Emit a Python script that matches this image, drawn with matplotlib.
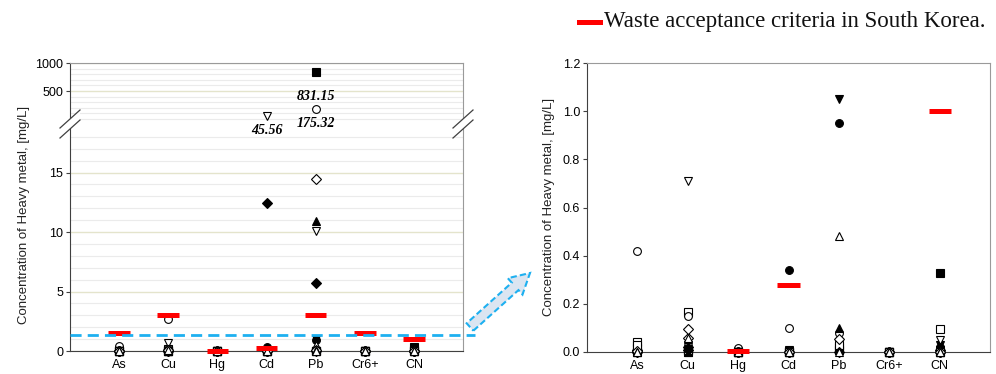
import numpy as np
import matplotlib
matplotlib.use('Agg')
import matplotlib.pyplot as plt
from matplotlib.lines import Line2D
from matplotlib.patches import Polygon

plt.rcParams['font.family'] = ['Liberation Sans', 'DejaVu Sans']

metals = ['As', 'Cu', 'Hg', 'Cd', 'Pb', 'Cr6+', 'CN']
criteria = [1.5, 3.0, 0.005, 0.28, 3.0, 1.5, 1.0]
blue_level = 1.35

# one value per sample (20 samples), sample i uses marker i % 10
as_vals = [0.01, 0.42, 0.005, 0.02, 0.015, 0.04, 0.01, 0.0, 0.02, 0.0,
           0.0, 0.005, 0.0, 0.01, 0.0, 0.03, 0.0, 0.005, 0.0, 0.0]
cu_vals = [0.02, 2.7, 0.03, 0.71, 0.01, 0.165, 0.02, 0.06, 0.04, 0.0,
           0.01, 0.15, 0.005, 0.02, 0.0, 0.01, 0.01, 0.095, 0.03, 0.06]
hg_vals = [0.0, 0.015, 0.0, 0.0, 0.0, 0.0, 0.0, 0.0, 0.0, 0.0,
           0.0, 0.0, 0.0, 0.0, 0.0, 0.0, 0.0, 0.0, 0.0, 0.0]
cd_vals = [0.34, 0.10, 0.01, 45.56, 0.005, 0.0, 12.45, 0.0, 0.01, 0.0,
           0.0, 0.005, 0.0, 0.0, 0.0, 0.0, 0.0, 0.0, 0.0, 0.0]
pb_vals = [0.95, 175.32, 1.05, 10.1, 831.15, 0.02, 5.75, 14.5, 10.9, 0.48,
           0.0, 0.08, 0.02, 0.04, 0.01, 0.03, 0.0, 0.055, 0.10, 0.0]
cr_vals = [0.0] * 20
cn_vals = [0.02, 0.01, 0.03, 0.05, 0.33, 0.095, 0.01, 0.0, 0.02, 0.0,
           0.0, 0.005, 0.01, 0.0, 0.0, 0.0, 0.0, 0.0, 0.0, 0.0]

labels_hi = [('Cd', 45.56), ('Pb', 175.32), ('Pb', 831.15)]

markers = [('o', True), ('o', False), ('v', True), ('v', False), ('s', True),
           ('s', False), ('D', True), ('D', False), ('^', True), ('^', False)]

data = np.array([as_vals, cu_vals, hg_vals, cd_vals, pb_vals, cr_vals, cn_vals])
xpos = np.arange(1, len(metals) + 1)

W, H = 996, 374
fig = plt.figure(figsize=(W / 100, H / 100), dpi=100)


def fx(px):
    return px / W


def fy(py):
    return 1 - py / H


ax_lo = fig.add_axes([fx(70), fy(351), fx(393), fy(125) - fy(351)])
ax_hi = fig.add_axes([fx(70), fy(125), fx(393), fy(63) - fy(125)])
ax_r = fig.add_axes([fx(587), fy(352), fx(403), fy(63) - fy(352)])
ax_hi.set_zorder(3)

dark = '#404040'
light = '#9a9a9a'


def scatter(ax, lo, hi, clip):
    for i in range(data.shape[1]):
        m, filled = markers[i % 10]
        y = data[:, i]
        sel = (y >= lo) & (y <= hi)
        if not sel.any():
            continue
        ms = 4.6 if m == 'D' else 5.6
        ax.plot(xpos[sel], y[sel], linestyle='none', marker=m, ms=ms,
                mec='black', mew=0.8, mfc='black' if filled else 'white',
                clip_on=clip, zorder=3)


def crit(ax):
    ax.hlines(criteria, xpos - 0.22, xpos + 0.22, color='#ff0000', lw=3.6,
              zorder=4, clip_on=False)


# left, upper part
ax_hi.set_ylim(-107, 1000)
ax_hi.set_xlim(0, 8)
ax_hi.set_yticks([500, 1000])
ax_hi.set_yticks(np.arange(0, 1001, 100), minor=True)
scatter(ax_hi, 19, 2000, False)
for name, v in labels_hi:
    off = -17 if v > 500 else -10
    ax_hi.annotate(f'{v:.2f}', (metals.index(name) + 1, v), xytext=(0, off),
                   textcoords='offset points', ha='center', va='center',
                   fontsize=10, fontweight='bold', fontstyle='italic',
                   family='Liberation Serif', zorder=5, annotation_clip=False)

# left, lower part
ax_lo.set_ylim(0, 19)
ax_lo.set_xlim(0, 8)
ax_lo.set_yticks([0, 5, 10, 15])
ax_lo.set_yticks(np.arange(0, 19, 1), minor=True)
ax_lo.set_xticks(xpos)
ax_lo.set_xticklabels(metals)
scatter(ax_lo, -1, 19, False)
crit(ax_lo)
ax_lo.plot([0, 8.25], [blue_level, blue_level], color='#1eb0f0', lw=2,
           dashes=(4, 2.2), clip_on=False, zorder=5)

for ax in (ax_hi, ax_lo):
    ax.grid(which='minor', axis='y', color='#ebebeb', lw=0.8)
    ax.grid(which='major', axis='y', color='#e4e4cc', lw=1.0)
    ax.set_axisbelow(True)
    ax.tick_params(axis='y', which='minor', length=0)
    ax.tick_params(axis='y', which='major', length=3, labelsize=9,
                   color=dark, pad=2)
    ax.tick_params(axis='x', length=0, labelsize=9, pad=6)
    ax.spines['left'].set_color(dark)
    ax.spines['bottom'].set_color(dark)
    ax.spines['top'].set_color(light)
    ax.spines['right'].set_color(light)
ax_hi.spines['bottom'].set_visible(False)
ax_lo.spines['top'].set_visible(False)
ax_hi.tick_params(axis='x', bottom=False, labelbottom=False)
ax_hi.patch.set_alpha(0)

fig.text(fx(24), fy(215), 'Concentration of Heavy metal, [mg/L]',
         rotation=90, ha='center', va='center', fontsize=9.5, color='#222222')

# break marks
for x0 in (70, 463):
    p1 = [(x0 - 10, 128), (x0 + 10, 110)]
    p2 = [(x0 - 10, 138), (x0 + 10, 120)]
    gap = Polygon([(fx(a), fy(b)) for a, b in p1 + p2[::-1]],
                  closed=True, transform=fig.transFigure, fc='white',
                  ec='none', zorder=6)
    fig.add_artist(gap)
    for p in (p1, p2):
        fig.add_artist(Line2D([fx(p[0][0]), fx(p[1][0])],
                              [fy(p[0][1]), fy(p[1][1])],
                              transform=fig.transFigure, color=dark, lw=0.9,
                              zorder=7))

# right panel
ax_r.set_ylim(0, 1.2)
ax_r.set_xlim(0, 8)
ax_r.set_yticks(np.arange(0, 1.21, 0.2))
ax_r.set_yticklabels([f'{t:.1f}' for t in np.arange(0, 1.21, 0.2)])
ax_r.set_xticks(xpos)
ax_r.set_xticklabels(metals)
scatter(ax_r, -1, 1.2, False)
crit(ax_r)
ax_r.tick_params(axis='y', length=3, labelsize=9, color=dark, pad=2)
ax_r.tick_params(axis='x', length=0, labelsize=9, pad=6)
ax_r.spines['left'].set_color(dark)
ax_r.spines['bottom'].set_color(dark)
ax_r.spines['top'].set_color(light)
ax_r.spines['right'].set_color(light)
fig.text(fx(549), fy(207), 'Concentration of Heavy metal, [mg/L]',
         rotation=90, ha='center', va='center', fontsize=9.5, color='#222222')

# dashed hollow arrow between panels
tail = np.array([470.0, 327.0])
tip = np.array([530.0, 273.0])
d = (tip - tail) / np.linalg.norm(tip - tail)
n = np.array([-d[1], d[0]])
hl, sw, hw = 20, 5, 11
base = tip - d * hl
pts = [tail + n * sw, base + n * sw, base + n * hw, tip,
       base - n * hw, base - n * sw, tail - n * sw]
arrow = Polygon([(fx(a), fy(b)) for a, b in pts], closed=True,
                transform=fig.transFigure, fc='#dbe5f1', ec='#1eb0f0',
                lw=1.5, ls=(0, (3, 1.5)), zorder=2)
fig.add_artist(arrow)

# legend on top
fig.add_artist(Line2D([fx(579), fx(600)], [fy(22), fy(22)],
                      transform=fig.transFigure, color='#ff0000', lw=3.6))
fig.text(fx(604), fy(22), 'Waste acceptance criteria in South Korea.',
         ha='left', va='center', fontsize=16.5, family='Liberation Serif',
         color='#111111')

fig.savefig('out.png', dpi=100)
